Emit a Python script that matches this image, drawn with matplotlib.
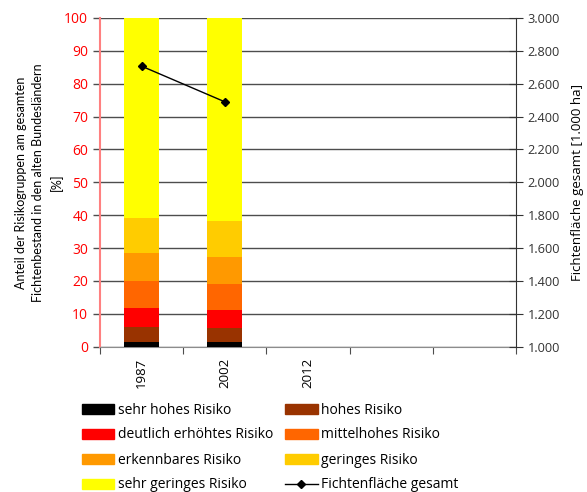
import numpy as np
import matplotlib.pyplot as plt
from matplotlib.patches import Patch
from matplotlib.lines import Line2D

plt.rcParams["font.family"] = ["Open Sans", "DejaVu Sans"]

# --- data ---------------------------------------------------------------------
years = ["1987", "2002", "2012", "", ""]
bar_years = ["1987", "2002"]
risk_names = ["sehr hohes Risiko", "hohes Risiko", "deutlich erhöhtes Risiko",
              "mittelhohes Risiko", "erkennbares Risiko", "geringes Risiko",
              "sehr geringes Risiko"]
risk_colors = ["#000000", "#993300", "#FF0000", "#FF6600", "#FF9900", "#FFCC00", "#FFFF00"]
share_1987 = [1.5, 4.5, 5.9, 8.2, 8.4, 10.6, 60.9]
share_2002 = [1.5, 4.3, 5.5, 7.9, 8.2, 10.9, 61.7]
area_total = [2707, 2490]   # 1.000 ha

fig = plt.figure(figsize=(5.87, 4.92), dpi=100)
ax = fig.add_axes([100 / 587, 1 - 346.7 / 492, 416 / 587, 328.7 / 492])
x = np.arange(len(years))
xb = np.arange(len(bar_years))

bottom = np.zeros(len(bar_years))
shares = np.array([share_1987, share_2002]).T
for name, col, vals in zip(risk_names, risk_colors, shares):
    ax.bar(xb, vals, bottom=bottom, width=0.42, color=col, zorder=3)
    bottom += vals

ax.set_xlim(-0.5, len(years) - 0.5)
ax.set_ylim(0, 100)
ax.set_yticks(np.arange(0, 101, 10))
ax.yaxis.grid(True, color="#4d4d4d", lw=1.0, zorder=0)
ax.set_axisbelow(True)
ax.tick_params(axis="y", colors="#4d4d4d", labelcolor="#FF0000", labelsize=10,
               length=5, width=1)
ax.set_xticks(np.arange(len(years) + 1) - 0.5, minor=False)
ax.set_xticklabels([])
ax.set_xticks(x, minor=True)
ax.set_xticklabels(years, minor=True, rotation=90, fontsize=9.5)
ax.tick_params(axis="x", which="major", length=5, color="#4d4d4d")
ax.tick_params(axis="x", which="minor", length=0, pad=8)
for s in ["top", "right"]:
    ax.spines[s].set_visible(False)
ax.spines["left"].set_color("#FF8080")
ax.spines["left"].set_linewidth(1.5)
ax.spines["bottom"].set_color("#8c8c8c")
ax.set_ylabel("Anteil der Risikogruppen am gesamten\nFichtenbestand in den alten Bundesländern\n[%]",
              fontsize=9, family=["Lato", "DejaVu Sans"], labelpad=1, linespacing=1.5)

ax2 = ax.twinx()
ax2.plot(xb, area_total, color="black", lw=1, marker="D", ms=4, zorder=5)
ax2.set_ylim(1000, 3000)
ax2.set_yticks(np.arange(1000, 3001, 200))
ax2.set_yticklabels([f"{v:,.0f}".replace(",", ".") for v in np.arange(1000, 3001, 200)])
ax2.tick_params(axis="y", direction="inout", length=10, colors="#333333", labelsize=9.2)
for s in ["top", "left", "bottom"]:
    ax2.spines[s].set_visible(False)
ax2.spines["right"].set_color("#333333")
ax2.set_ylabel("Fichtenfläche gesamt [1.000 ha]", fontsize=9.5, labelpad=8)

handles = [Patch(color=c, label=n) for c, n in zip(risk_colors, risk_names)]
handles.append(Line2D([], [], color="black", lw=1, marker="D", ms=4,
                      label="Fichtenfläche gesamt"))
order = [0, 2, 4, 6, 1, 3, 5, 7]
fig.legend([handles[i] for i in order], [handles[i].get_label() for i in order],
           ncol=2, loc="upper left", bbox_to_anchor=(69 / 587, 1 - 390 / 492),
           frameon=False, fontsize=10, handlelength=2.37, handleheight=0.72,
           handletextpad=0.25, columnspacing=0.85, labelspacing=0.72)

fig.savefig("out.png", dpi=100)
